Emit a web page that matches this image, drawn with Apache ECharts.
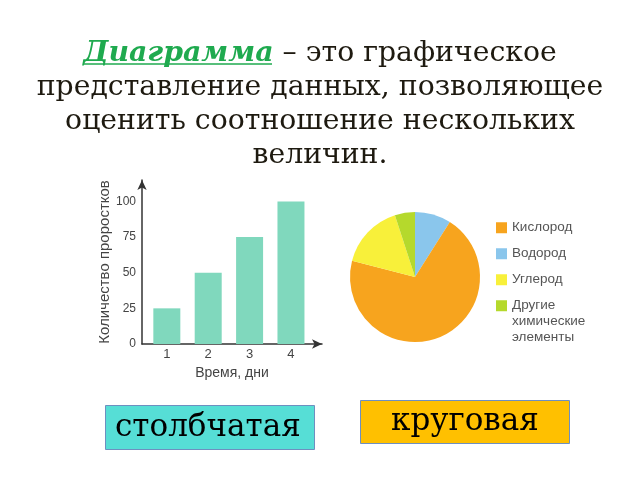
<!DOCTYPE html>
<html>
<head>
<meta charset="utf-8">
<script src="https://cdn.jsdelivr.net/npm/echarts@6/dist/echarts.min.js"></script>
<style>html,body{margin:0;padding:0;background:#fff}#c{width:640px;height:480px}</style>
</head>
<body>
<div id="c"></div>
<script>
const days = [1, 2, 3, 4];
const sprouts = [25, 50, 75, 100];
const yTicks = [0, 25, 50, 75, 100];
const pieNames = ['Водород', 'Кислород', 'Углерод', 'Другие'];
const pieValues = [9, 70, 16, 5];
const pieColors = ['#8ac6ec', '#f7a41e', '#f8f03a', '#b5d92c'];
const legendOrder = ['Кислород', 'Водород', 'Углерод', 'Другие'];

const chart = echarts.init(document.getElementById('c'), null, {renderer: 'canvas'});
const sans = 'Liberation Sans, Arial, sans-serif';
const serif = 'DejaVu Serif, serif';

chart.setOption({
  animation: false,
  backgroundColor: '#fff',
  title: [
    {
      text: '{g|Диаграмма} – это графическое\nпредставление данных, позволяющее\nоценить соотношение нескольких\nвеличин.',
      left: 'center', top: 37, padding: 0,
      textStyle: {
        fontFamily: serif, fontSize: 28.3, fontWeight: 'normal', color: '#1e1a10', lineHeight: 34,
        rich: {
          g: {fontFamily: serif, fontSize: 28.3, fontWeight: 'bold', fontStyle: 'italic', color: '#1faa4f', lineHeight: 34}
        }
      }
    },
    {
      text: 'столбчатая', left: 105, top: 405,
      padding: [6, 10, 6, 10],
      backgroundColor: '#56ded6', borderColor: '#6e8fc0', borderWidth: 1,
      textStyle: {fontFamily: serif, fontSize: 31, fontWeight: 'normal', color: '#000', width: 190, lineHeight: 33}
    },
    {
      text: 'круговая', left: 360, top: 400,
      padding: [5, 31, 6, 31],
      backgroundColor: '#ffc000', borderColor: '#6e8fc0', borderWidth: 1,
      textStyle: {fontFamily: serif, fontSize: 31, fontWeight: 'normal', color: '#000', lineHeight: 33}
    },
    {
      text: 'химические\nэлементы', left: 512, top: 314, padding: 0,
      textStyle: {fontFamily: sans, fontSize: 13.5, fontWeight: 'normal', color: '#555', lineHeight: 15.5}
    }
  ],
  graphic: [
    {type: 'line', shape: {x1: 83, y1: 64, x2: 272, y2: 64}, style: {stroke: '#1faa4f', lineWidth: 1.5}}
  ],
  grid: {left: 142, right: 318, top: 180, bottom: 136, containLabel: false, outerBoundsMode: 'none'},
  xAxis: {
    type: 'value', min: 0.4, max: 4.75,
    name: 'Время, дни', nameLocation: 'middle', nameGap: 22,
    nameTextStyle: {fontFamily: sans, fontSize: 14, color: '#444'},
    splitLine: {show: false},
    axisTick: {show: false},
    axisLine: {show: true, lineStyle: {color: '#333', width: 1.5}, symbol: ['none', 'arrow'], symbolSize: [7, 10]},
    axisLabel: {customValues: days, fontFamily: sans, fontSize: 13, color: '#444', margin: 4}
  },
  yAxis: {
    type: 'value', min: 0, max: 115,
    name: 'Количество проростков', nameLocation: 'middle', nameGap: 26, nameRotate: 90,
    nameTextStyle: {fontFamily: sans, fontSize: 15, color: '#444'},
    splitLine: {show: false},
    axisTick: {show: false},
    axisLine: {show: true, lineStyle: {color: '#333', width: 1.5}, symbol: ['none', 'arrow'], symbolSize: [7, 10]},
    axisLabel: {customValues: yTicks, fontFamily: sans, fontSize: 12, color: '#444', margin: 6}
  },
  legend: {
    orient: 'vertical', left: 491, top: 215,
    itemWidth: 11, itemHeight: 11, itemGap: 10.5,
    icon: 'rect',
    textStyle: {fontFamily: sans, fontSize: 13.5, color: '#555', lineHeight: 15.5},
    data: legendOrder
  },
  series: [
    {
      type: 'bar',
      data: days.map((d, i) => [d, sprouts[i]]),
      barWidth: 27,
      itemStyle: {color: '#80d8bd'},
      silent: true
    },
    {
      type: 'pie',
      center: [415, 277], radius: 65,
      startAngle: 90, clockwise: true,
      label: {show: false}, labelLine: {show: false},
      silent: true,
      data: pieNames.map((n, i) => ({name: n, value: pieValues[i], itemStyle: {color: pieColors[i]}}))
    }
  ]
});
</script>
</body>
</html>
